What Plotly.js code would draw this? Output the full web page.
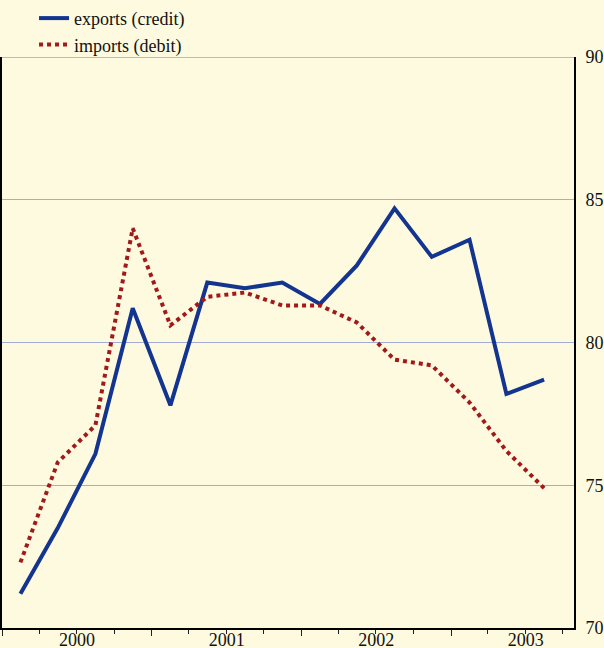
<!DOCTYPE html>
<html>
<head>
<meta charset="utf-8">
<script src="https://cdn.plot.ly/plotly-3.0.1.min.js"></script>
<style>html,body{margin:0;padding:0;background:#fdfae0;}#chart{width:604px;height:648px;}</style>
</head>
<body>
<div id="chart"></div>
<script>
// Quarter mid-points, 2000 Q1 .. 2003 Q3
var quarters = ["2000-02-15","2000-05-16","2000-08-16","2000-11-15",
                "2001-02-15","2001-05-16","2001-08-16","2001-11-15",
                "2002-02-15","2002-05-16","2002-08-16","2002-11-15",
                "2003-02-15","2003-05-16","2003-08-16"];
var exportsCredit = [71.2, 73.5, 76.1, 81.2, 77.8, 82.1, 81.9, 82.1, 81.35, 82.7, 84.7, 83.0, 83.6, 78.2, 78.7];
var importsDebit  = [72.3, 75.8, 77.1, 84.0, 80.6, 81.6, 81.75, 81.3, 81.3, 80.7, 79.4, 79.2, 77.9, 76.2, 74.9];
var yTicks = [70, 75, 80, 85, 90];

var serif = "'Liberation Serif', 'Times New Roman', Times, serif";

var traces = [
  {x: quarters, y: exportsCredit, name: "exports (credit)", type: "scatter", mode: "lines",
   line: {color: "#13348f", width: 4}},
  {x: quarters, y: importsDebit, name: "imports (debit)", type: "scatter", mode: "lines",
   line: {color: "#a31818", width: 4, dash: "dot"}}
];

var layout = {
  width: 604, height: 648,
  paper_bgcolor: "#fdfae0", plot_bgcolor: "#fdfae0",
  margin: {l: 2, r: 30, t: 57, b: 20, pad: 0, autoexpand: false},
  font: {family: serif, size: 18, color: "#111"},
  showlegend: true,
  legend: {x: 0.056, y: 1.1, xanchor: "left", yanchor: "top", xref: "paper", yref: "paper",
           bgcolor: "rgba(0,0,0,0)", font: {family: serif, size: 18, color: "#111"},
           orientation: "v", tracegroupgap: 0},
  shapes: [
    {type: "line", xref: "paper", yref: "y", x0: 0, x1: 1, y0: 90, y1: 90,
     line: {color: "#b4b9cc", width: 2}, layer: "below"}
  ],
  xaxis: {
    type: "date", range: ["2000-01-01", "2003-10-28"],
    tick0: "2000-01-01", dtick: "M12", tickformat: "%Y", ticklabelmode: "period",
    ticks: "outside", ticklen: 6, tickwidth: 1, tickcolor: "#222",
    minor: {dtick: "M3", ticks: "outside", ticklen: 4, tickcolor: "#222", tickwidth: 1, showgrid: false},
    showgrid: false, zeroline: false,
    showline: true, linecolor: "#000", linewidth: 2, mirror: false,
    tickfont: {family: serif, size: 18, color: "#111"}, ticklabelstandoff: -12
  },
  yaxis: {
    side: "right", range: [70, 90], tickvals: yTicks, ticks: "",
    showgrid: true, gridcolor: "#a3acd6", gridwidth: 1, zeroline: false,
    showline: true, linecolor: "#000", linewidth: 2, mirror: true,
    tickfont: {family: serif, size: 18, color: "#111"}, ticklabelstandoff: 6
  }
};

Plotly.newPlot("chart", traces, layout, {displayModeBar: false, staticPlot: true});
</script>
</body>
</html>
